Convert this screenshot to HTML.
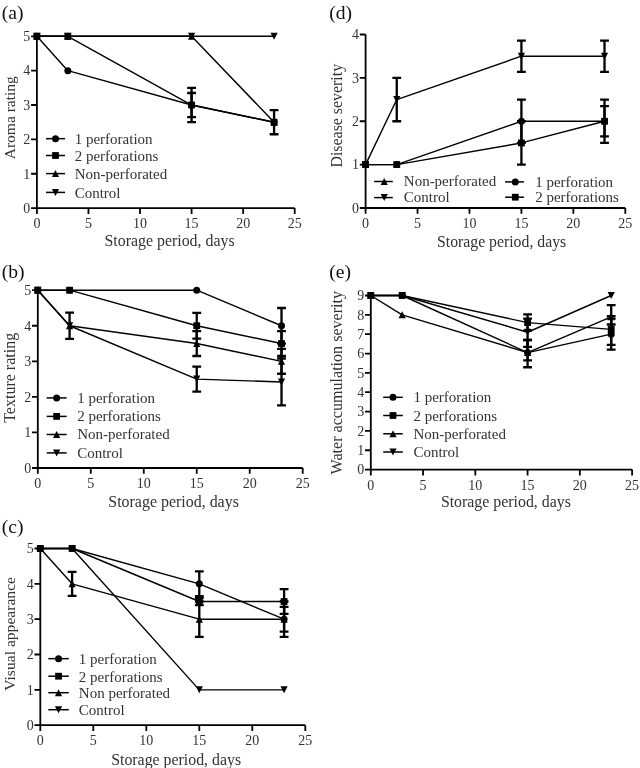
<!DOCTYPE html>
<html><head><meta charset="utf-8"><style>
html,body{margin:0;padding:0;background:#fff;}
svg{display:block;font-family:"Liberation Serif", serif;will-change:transform;}
</style></head><body>
<svg width="640" height="768" viewBox="0 0 640 768">
<rect width="640" height="768" fill="#fff"/>
<path d="M36.9 36.3V208.1H294.7M31.1 208.1H36.9M31.1 173.74H36.9M31.1 139.38H36.9M31.1 105.02H36.9M31.1 70.66H36.9M31.1 36.3H36.9M36.9 208.1V213.9M88.46 208.1V213.9M140.02 208.1V213.9M191.58 208.1V213.9M243.14 208.1V213.9M294.7 208.1V213.9" fill="none" stroke="#000" stroke-width="1.8"/>
<g font-size="14.0" fill="#333"><text x="30.3" y="212.9" text-anchor="end">0</text><text x="30.3" y="178.54" text-anchor="end">1</text><text x="30.3" y="144.18" text-anchor="end">2</text><text x="30.3" y="109.82" text-anchor="end">3</text><text x="30.3" y="75.46" text-anchor="end">4</text><text x="30.3" y="41.1" text-anchor="end">5</text><text x="36.9" y="228.1" text-anchor="middle">0</text><text x="88.46" y="228.1" text-anchor="middle">5</text><text x="140.02" y="228.1" text-anchor="middle">10</text><text x="191.58" y="228.1" text-anchor="middle">15</text><text x="243.14" y="228.1" text-anchor="middle">20</text><text x="294.7" y="228.1" text-anchor="middle">25</text></g>
<text x="104.5" y="246.3" font-size="15.89" fill="#333">Storage period, days</text>
<text transform="translate(14.5 117.75) rotate(-90)" x="0" y="0" text-anchor="middle" font-size="15.5" fill="#333">Aroma rating</text>
<text x="1.7" y="19.3" font-size="19.6" fill="#111">(a)</text>
<path d="M36.9 36.3L67.84 36.3L191.58 36.3L274.08 122.2" fill="none" stroke="#000" stroke-width="1.4" stroke-linejoin="round"/>
<path d="M36.9 36.3L67.84 36.3L191.58 36.3L274.08 36.3" fill="none" stroke="#000" stroke-width="1.4" stroke-linejoin="round"/>
<path d="M36.9 36.3L67.84 70.66L191.58 105.02L274.08 122.2" fill="none" stroke="#000" stroke-width="1.4" stroke-linejoin="round"/>
<path d="M36.9 36.3L67.84 36.3L191.58 105.02L274.08 122.2" fill="none" stroke="#000" stroke-width="1.4" stroke-linejoin="round"/>
<path d="M191.58 92.99V117.05M187.18 92.99H195.98M187.18 117.05H195.98" fill="none" stroke="#000" stroke-width="2.3"/>
<path d="M191.58 87.84V122.2M187.18 87.84H195.98M187.18 122.2H195.98M274.08 110.17V134.23M269.68 110.17H278.48M269.68 134.23H278.48" fill="none" stroke="#000" stroke-width="2.3"/>
<g fill="#000"><path d="M36.9 32.8L40.5 39.8L33.3 39.8Z"/><path d="M67.84 32.8L71.44 39.8L64.24 39.8Z"/><path d="M191.58 32.8L195.18 39.8L187.98 39.8Z"/><path d="M274.08 118.7L277.68 125.7L270.48 125.7Z"/></g>
<g fill="#000"><path d="M33.3 32.8L40.5 32.8L36.9 39.8Z"/><path d="M64.24 32.8L71.44 32.8L67.84 39.8Z"/><path d="M187.98 32.8L195.18 32.8L191.58 39.8Z"/><path d="M270.48 32.8L277.68 32.8L274.08 39.8Z"/></g>
<g fill="#000"><circle cx="36.9" cy="36.3" r="3.5"/><circle cx="67.84" cy="70.66" r="3.5"/><circle cx="191.58" cy="105.02" r="3.5"/><circle cx="274.08" cy="122.2" r="3.5"/></g>
<g fill="#000"><rect x="33.5" y="32.9" width="6.8" height="6.8"/><rect x="64.44" y="32.9" width="6.8" height="6.8"/><rect x="188.18" y="101.62" width="6.8" height="6.8"/><rect x="270.68" y="118.8" width="6.8" height="6.8"/></g>
<path d="M46 138.66H65" stroke="#000" stroke-width="1.5"/>
<g fill="#000"><circle cx="55.5" cy="138.66" r="3.5"/></g>
<text x="74.7" y="143.96" font-size="15" fill="#333">1 perforation</text>
<path d="M46 155.5H65" stroke="#000" stroke-width="1.5"/>
<g fill="#000"><rect x="52.1" y="152.1" width="6.8" height="6.8"/></g>
<text x="74.7" y="160.8" font-size="15" fill="#333">2 perforations</text>
<path d="M46 173.6H65" stroke="#000" stroke-width="1.5"/>
<g fill="#000"><path d="M55.5 170.1L59.1 177.1L51.9 177.1Z"/></g>
<text x="74.7" y="178.9" font-size="15" fill="#333">Non-perforated</text>
<path d="M46 192.4H65" stroke="#000" stroke-width="1.5"/>
<g fill="#000"><path d="M51.9 188.9L59.1 188.9L55.5 195.9Z"/></g>
<text x="74.7" y="197.7" font-size="15" fill="#333">Control</text>
<path d="M37.8 290.2V468H302.7M32 468H37.8M32 432.44H37.8M32 396.88H37.8M32 361.32H37.8M32 325.76H37.8M32 290.2H37.8M37.8 468V473.8M90.78 468V473.8M143.76 468V473.8M196.74 468V473.8M249.72 468V473.8M302.7 468V473.8" fill="none" stroke="#000" stroke-width="1.8"/>
<g font-size="14.0" fill="#333"><text x="31.2" y="472.8" text-anchor="end">0</text><text x="31.2" y="437.24" text-anchor="end">1</text><text x="31.2" y="401.68" text-anchor="end">2</text><text x="31.2" y="366.12" text-anchor="end">3</text><text x="31.2" y="330.56" text-anchor="end">4</text><text x="31.2" y="295" text-anchor="end">5</text><text x="37.8" y="488" text-anchor="middle">0</text><text x="90.78" y="488" text-anchor="middle">5</text><text x="143.76" y="488" text-anchor="middle">10</text><text x="196.74" y="488" text-anchor="middle">15</text><text x="249.72" y="488" text-anchor="middle">20</text><text x="302.7" y="488" text-anchor="middle">25</text></g>
<text x="108.3" y="507.2" font-size="15.94" fill="#333">Storage period, days</text>
<text transform="translate(14.7 377.8) rotate(-90)" x="0" y="0" text-anchor="middle" font-size="16.05" fill="#333">Texture rating</text>
<text x="1.7" y="278.2" font-size="19.6" fill="#111">(b)</text>
<path d="M37.8 290.2L69.59 290.2L196.74 290.2L281.51 325.76" fill="none" stroke="#000" stroke-width="1.4" stroke-linejoin="round"/>
<path d="M37.8 290.2L69.59 290.2L196.74 325.76L281.51 343.54" fill="none" stroke="#000" stroke-width="1.4" stroke-linejoin="round"/>
<path d="M37.8 290.2L69.59 325.76L196.74 343.54L281.51 361.32" fill="none" stroke="#000" stroke-width="1.4" stroke-linejoin="round"/>
<path d="M37.8 290.2L69.59 325.76L196.74 379.1L281.51 381.94" fill="none" stroke="#000" stroke-width="1.4" stroke-linejoin="round"/>
<path d="M281.51 307.98V343.54M277.11 307.98H285.91M277.11 343.54H285.91" fill="none" stroke="#000" stroke-width="2.3"/>
<path d="M196.74 312.96V338.56M192.34 312.96H201.14M192.34 338.56H201.14M281.51 331.09V355.99M277.11 331.09H285.91M277.11 355.99H285.91" fill="none" stroke="#000" stroke-width="2.3"/>
<path d="M69.59 312.6V338.92M65.19 312.6H73.99M65.19 338.92H73.99M196.74 331.09V355.99M192.34 331.09H201.14M192.34 355.99H201.14M281.51 348.87V373.77M277.11 348.87H285.91M277.11 373.77H285.91" fill="none" stroke="#000" stroke-width="2.3"/>
<path d="M196.74 366.65V391.55M192.34 366.65H201.14M192.34 391.55H201.14M281.51 358.48V405.41M277.11 358.48H285.91M277.11 405.41H285.91" fill="none" stroke="#000" stroke-width="2.3"/>
<g fill="#000"><circle cx="37.8" cy="290.2" r="3.5"/><circle cx="69.59" cy="290.2" r="3.5"/><circle cx="196.74" cy="290.2" r="3.5"/><circle cx="281.51" cy="325.76" r="3.5"/></g>
<g fill="#000"><rect x="34.4" y="286.8" width="6.8" height="6.8"/><rect x="66.19" y="286.8" width="6.8" height="6.8"/><rect x="193.34" y="322.36" width="6.8" height="6.8"/><rect x="278.11" y="340.14" width="6.8" height="6.8"/></g>
<g fill="#000"><path d="M37.8 286.7L41.4 293.7L34.2 293.7Z"/><path d="M69.59 322.26L73.19 329.26L65.99 329.26Z"/><path d="M196.74 340.04L200.34 347.04L193.14 347.04Z"/><path d="M281.51 357.82L285.11 364.82L277.91 364.82Z"/></g>
<g fill="#000"><path d="M34.2 286.7L41.4 286.7L37.8 293.7Z"/><path d="M65.99 322.26L73.19 322.26L69.59 329.26Z"/><path d="M193.14 375.6L200.34 375.6L196.74 382.6Z"/><path d="M277.91 378.44L285.11 378.44L281.51 385.44Z"/></g>
<path d="M46.7 397.9H66.6" stroke="#000" stroke-width="1.5"/>
<g fill="#000"><circle cx="56.65" cy="397.9" r="3.5"/></g>
<text x="77.2" y="402.5" font-size="15" fill="#333">1 perforation</text>
<path d="M46.7 416.4H66.6" stroke="#000" stroke-width="1.5"/>
<g fill="#000"><rect x="53.25" y="413" width="6.8" height="6.8"/></g>
<text x="77.2" y="421" font-size="15" fill="#333">2 perforations</text>
<path d="M46.7 434.5H66.6" stroke="#000" stroke-width="1.5"/>
<g fill="#000"><path d="M56.65 431L60.25 438L53.05 438Z"/></g>
<text x="77.2" y="439.1" font-size="15" fill="#333">Non-perforated</text>
<path d="M46.7 452.9H66.6" stroke="#000" stroke-width="1.5"/>
<g fill="#000"><path d="M53.05 449.4L60.25 449.4L56.65 456.4Z"/></g>
<text x="77.2" y="457.5" font-size="15" fill="#333">Control</text>
<path d="M40.3 548.5V725.2H305.3M34.5 725.2H40.3M34.5 689.86H40.3M34.5 654.52H40.3M34.5 619.18H40.3M34.5 583.84H40.3M34.5 548.5H40.3M40.3 725.2V731M93.3 725.2V731M146.3 725.2V731M199.3 725.2V731M252.3 725.2V731M305.3 725.2V731" fill="none" stroke="#000" stroke-width="1.8"/>
<g font-size="14.0" fill="#333"><text x="33.7" y="730" text-anchor="end">0</text><text x="33.7" y="694.66" text-anchor="end">1</text><text x="33.7" y="659.32" text-anchor="end">2</text><text x="33.7" y="623.98" text-anchor="end">3</text><text x="33.7" y="588.64" text-anchor="end">4</text><text x="33.7" y="553.3" text-anchor="end">5</text><text x="40.3" y="745.2" text-anchor="middle">0</text><text x="93.3" y="745.2" text-anchor="middle">5</text><text x="146.3" y="745.2" text-anchor="middle">10</text><text x="199.3" y="745.2" text-anchor="middle">15</text><text x="252.3" y="745.2" text-anchor="middle">20</text><text x="305.3" y="745.2" text-anchor="middle">25</text></g>
<text x="111.2" y="764.7" font-size="15.86" fill="#333">Storage period, days</text>
<text transform="translate(14.5 633.9) rotate(-90)" x="0" y="0" text-anchor="middle" font-size="15.6" fill="#333">Visual appearance</text>
<text x="1.7" y="532.5" font-size="19.6" fill="#111">(c)</text>
<path d="M40.3 548.5L72.1 548.5L199.3 583.84L284.1 619.18" fill="none" stroke="#000" stroke-width="1.4" stroke-linejoin="round"/>
<path d="M40.3 548.5L72.1 548.5L199.3 601.51L284.1 601.51" fill="none" stroke="#000" stroke-width="1.4" stroke-linejoin="round"/>
<path d="M40.3 548.5L72.1 583.84L199.3 619.18L284.1 619.18" fill="none" stroke="#000" stroke-width="1.4" stroke-linejoin="round"/>
<path d="M40.3 548.5L72.1 548.5L199.3 689.86L284.1 689.86" fill="none" stroke="#000" stroke-width="1.4" stroke-linejoin="round"/>
<path d="M199.3 571.47V596.21M194.9 571.47H203.7M194.9 596.21H203.7M284.1 601.51V636.85M279.7 601.51H288.5M279.7 636.85H288.5" fill="none" stroke="#000" stroke-width="2.3"/>
<path d="M199.3 597.98V605.04M194.9 597.98H203.7M194.9 605.04H203.7M284.1 589.14V613.88M279.7 589.14H288.5M279.7 613.88H288.5" fill="none" stroke="#000" stroke-width="2.3"/>
<path d="M72.1 571.82V595.86M67.7 571.82H76.5M67.7 595.86H76.5M199.3 601.51V636.85M194.9 601.51H203.7M194.9 636.85H203.7M284.1 606.81V631.55M279.7 606.81H288.5M279.7 631.55H288.5" fill="none" stroke="#000" stroke-width="2.3"/>
<g fill="#000"><circle cx="40.3" cy="548.5" r="3.5"/><circle cx="72.1" cy="548.5" r="3.5"/><circle cx="199.3" cy="583.84" r="3.5"/><circle cx="284.1" cy="619.18" r="3.5"/></g>
<g fill="#000"><rect x="36.9" y="545.1" width="6.8" height="6.8"/><rect x="68.7" y="545.1" width="6.8" height="6.8"/><rect x="195.9" y="598.11" width="6.8" height="6.8"/><rect x="280.7" y="598.11" width="6.8" height="6.8"/></g>
<g fill="#000"><path d="M40.3 545L43.9 552L36.7 552Z"/><path d="M72.1 580.34L75.7 587.34L68.5 587.34Z"/><path d="M199.3 615.68L202.9 622.68L195.7 622.68Z"/><path d="M284.1 615.68L287.7 622.68L280.5 622.68Z"/></g>
<g fill="#000"><path d="M36.7 545L43.9 545L40.3 552Z"/><path d="M68.5 545L75.7 545L72.1 552Z"/><path d="M195.7 686.36L202.9 686.36L199.3 693.36Z"/><path d="M280.5 686.36L287.7 686.36L284.1 693.36Z"/></g>
<path d="M48.3 658.66H68.8" stroke="#000" stroke-width="1.5"/>
<g fill="#000"><circle cx="58.55" cy="658.66" r="3.5"/></g>
<text x="78.85" y="663.96" font-size="15" fill="#333">1 perforation</text>
<path d="M48.3 676.2H68.8" stroke="#000" stroke-width="1.5"/>
<g fill="#000"><rect x="55.15" y="672.8" width="6.8" height="6.8"/></g>
<text x="78.85" y="681.5" font-size="15" fill="#333">2 perforations</text>
<path d="M48.3 692.7H68.8" stroke="#000" stroke-width="1.5"/>
<g fill="#000"><path d="M58.55 689.2L62.15 696.2L54.95 696.2Z"/></g>
<text x="78.85" y="698" font-size="15" fill="#333">Non perforated</text>
<path d="M48.3 709.7H68.8" stroke="#000" stroke-width="1.5"/>
<g fill="#000"><path d="M54.95 706.2L62.15 706.2L58.55 713.2Z"/></g>
<text x="78.85" y="715" font-size="15" fill="#333">Control</text>
<path d="M365.6 34.5V208H625.3M359.8 208H365.6M359.8 164.62H365.6M359.8 121.25H365.6M359.8 77.88H365.6M359.8 34.5H365.6M365.6 208V213.8M417.54 208V213.8M469.48 208V213.8M521.42 208V213.8M573.36 208V213.8M625.3 208V213.8" fill="none" stroke="#000" stroke-width="1.8"/>
<g font-size="14.0" fill="#333"><text x="359" y="212.8" text-anchor="end">0</text><text x="359" y="169.43" text-anchor="end">1</text><text x="359" y="126.05" text-anchor="end">2</text><text x="359" y="82.67" text-anchor="end">3</text><text x="359" y="39.3" text-anchor="end">4</text><text x="365.6" y="228" text-anchor="middle">0</text><text x="417.54" y="228" text-anchor="middle">5</text><text x="469.48" y="228" text-anchor="middle">10</text><text x="521.42" y="228" text-anchor="middle">15</text><text x="573.36" y="228" text-anchor="middle">20</text><text x="625.3" y="228" text-anchor="middle">25</text></g>
<text x="437" y="246.5" font-size="15.77" fill="#333">Storage period, days</text>
<text transform="translate(342.35 115.7) rotate(-90)" x="0" y="0" text-anchor="middle" font-size="15.9" fill="#333">Disease severity</text>
<text x="329.2" y="19.3" font-size="19.6" fill="#111">(d)</text>
<path d="M365.6 164.62L396.76 99.56L521.42 56.19L604.52 56.19" fill="none" stroke="#000" stroke-width="1.4" stroke-linejoin="round"/>
<path d="M365.6 164.62L396.76 164.62L521.42 121.25L604.52 121.25" fill="none" stroke="#000" stroke-width="1.4" stroke-linejoin="round"/>
<path d="M365.6 164.62L396.76 164.62L521.42 142.94L604.52 121.25" fill="none" stroke="#000" stroke-width="1.4" stroke-linejoin="round"/>
<path d="M396.76 77.88V121.25M392.36 77.88H401.16M392.36 121.25H401.16M521.42 40.57V71.8M517.02 40.57H525.82M517.02 71.8H525.82M604.52 40.57V71.8M600.12 40.57H608.92M600.12 71.8H608.92" fill="none" stroke="#000" stroke-width="2.3"/>
<path d="M521.42 99.56V142.94M517.02 99.56H525.82M517.02 142.94H525.82M604.52 106.07V136.43M600.12 106.07H608.92M600.12 136.43H608.92" fill="none" stroke="#000" stroke-width="2.3"/>
<path d="M521.42 121.25V164.62M517.02 121.25H525.82M517.02 164.62H525.82M604.52 99.56V142.94M600.12 99.56H608.92M600.12 142.94H608.92" fill="none" stroke="#000" stroke-width="2.3"/>
<g fill="#000"><path d="M362 161.12L369.2 161.12L365.6 168.12Z"/><path d="M393.16 96.06L400.36 96.06L396.76 103.06Z"/><path d="M517.82 52.69L525.02 52.69L521.42 59.69Z"/><path d="M600.92 52.69L608.12 52.69L604.52 59.69Z"/></g>
<g fill="#000"><circle cx="365.6" cy="164.62" r="3.5"/><circle cx="396.76" cy="164.62" r="3.5"/><circle cx="521.42" cy="121.25" r="3.5"/><circle cx="604.52" cy="121.25" r="3.5"/></g>
<g fill="#000"><rect x="362.2" y="161.22" width="6.8" height="6.8"/><rect x="393.36" y="161.22" width="6.8" height="6.8"/><rect x="518.02" y="139.54" width="6.8" height="6.8"/><rect x="601.12" y="117.85" width="6.8" height="6.8"/></g>
<path d="M374.1 181.5H392.8" stroke="#000" stroke-width="1.5"/>
<g fill="#000"><path d="M384.2 178L387.8 185L380.6 185Z"/></g>
<text x="403.8" y="186.1" font-size="15" fill="#333">Non-perforated</text>
<path d="M374.1 197.6H392.8" stroke="#000" stroke-width="1.5"/>
<g fill="#000"><path d="M380.6 194.1L387.8 194.1L384.2 201.1Z"/></g>
<text x="403.8" y="202.2" font-size="15" fill="#333">Control</text>
<path d="M505.1 181.9H523.9" stroke="#000" stroke-width="1.5"/>
<g fill="#000"><circle cx="515.3" cy="181.9" r="3.5"/></g>
<text x="535.2" y="186.5" font-size="15" fill="#333">1 perforation</text>
<path d="M505.1 197.2H523.9" stroke="#000" stroke-width="1.5"/>
<g fill="#000"><rect x="511.9" y="193.8" width="6.8" height="6.8"/></g>
<text x="535.2" y="201.8" font-size="15" fill="#333">2 perforations</text>
<path d="M370.8 295.5V469.6H632.1M365 469.6H370.8M365 450.26H370.8M365 430.91H370.8M365 411.57H370.8M365 392.22H370.8M365 372.88H370.8M365 353.53H370.8M365 334.19H370.8M365 314.84H370.8M365 295.5H370.8M370.8 469.6V475.4M423.06 469.6V475.4M475.32 469.6V475.4M527.58 469.6V475.4M579.84 469.6V475.4M632.1 469.6V475.4" fill="none" stroke="#000" stroke-width="1.8"/>
<g font-size="14.0" fill="#333"><text x="364.2" y="474.4" text-anchor="end">0</text><text x="364.2" y="455.06" text-anchor="end">1</text><text x="364.2" y="435.71" text-anchor="end">2</text><text x="364.2" y="416.37" text-anchor="end">3</text><text x="364.2" y="397.02" text-anchor="end">4</text><text x="364.2" y="377.68" text-anchor="end">5</text><text x="364.2" y="358.33" text-anchor="end">6</text><text x="364.2" y="338.99" text-anchor="end">7</text><text x="364.2" y="319.64" text-anchor="end">8</text><text x="364.2" y="300.3" text-anchor="end">9</text><text x="370.8" y="489.6" text-anchor="middle">0</text><text x="423.06" y="489.6" text-anchor="middle">5</text><text x="475.32" y="489.6" text-anchor="middle">10</text><text x="527.58" y="489.6" text-anchor="middle">15</text><text x="579.84" y="489.6" text-anchor="middle">20</text><text x="632.1" y="489.6" text-anchor="middle">25</text></g>
<text x="440.9" y="507.2" font-size="15.86" fill="#333">Storage period, days</text>
<text transform="translate(341.6 382.7) rotate(-90)" x="0" y="0" text-anchor="middle" font-size="16.08" fill="#333">Water accumulation severity</text>
<text x="329.2" y="278.2" font-size="19.6" fill="#111">(e)</text>
<path d="M370.8 295.5L402.16 295.5L527.58 352.57L611.2 334.19" fill="none" stroke="#000" stroke-width="1.4" stroke-linejoin="round"/>
<path d="M370.8 295.5L402.16 295.5L527.58 322.58L611.2 329.35" fill="none" stroke="#000" stroke-width="1.4" stroke-linejoin="round"/>
<path d="M370.8 295.5L402.16 314.84L527.58 352.57L611.2 316.78" fill="none" stroke="#000" stroke-width="1.4" stroke-linejoin="round"/>
<path d="M370.8 295.5L402.16 295.5L527.58 332.25L611.2 295.5" fill="none" stroke="#000" stroke-width="1.4" stroke-linejoin="round"/>
<path d="M527.58 339.99V367.27M523.18 339.99H531.98M523.18 367.27H531.98M611.2 318.71V349.66M606.8 318.71H615.6M606.8 349.66H615.6" fill="none" stroke="#000" stroke-width="2.3"/>
<path d="M527.58 314.46V330.71M523.18 314.46H531.98M523.18 330.71H531.98M611.2 316.2V344.83M606.8 316.2H615.6M606.8 344.83H615.6" fill="none" stroke="#000" stroke-width="2.3"/>
<path d="M527.58 339.99V360.3M523.18 339.99H531.98M523.18 360.3H531.98M611.2 305.17V324.52M606.8 305.17H615.6M606.8 324.52H615.6" fill="none" stroke="#000" stroke-width="2.3"/>
<path d="M527.58 318.71V346.96M523.18 318.71H531.98M523.18 346.96H531.98" fill="none" stroke="#000" stroke-width="2.3"/>
<g fill="#000"><circle cx="370.8" cy="295.5" r="3.5"/><circle cx="402.16" cy="295.5" r="3.5"/><circle cx="527.58" cy="352.57" r="3.5"/><circle cx="611.2" cy="334.19" r="3.5"/></g>
<g fill="#000"><rect x="367.4" y="292.1" width="6.8" height="6.8"/><rect x="398.76" y="292.1" width="6.8" height="6.8"/><rect x="524.18" y="319.18" width="6.8" height="6.8"/><rect x="607.8" y="325.95" width="6.8" height="6.8"/></g>
<g fill="#000"><path d="M370.8 292L374.4 299L367.2 299Z"/><path d="M402.16 311.34L405.76 318.34L398.56 318.34Z"/><path d="M527.58 349.07L531.18 356.07L523.98 356.07Z"/><path d="M611.2 313.28L614.8 320.28L607.6 320.28Z"/></g>
<g fill="#000"><path d="M367.2 292L374.4 292L370.8 299Z"/><path d="M398.56 292L405.76 292L402.16 299Z"/><path d="M523.98 328.75L531.18 328.75L527.58 335.75Z"/><path d="M607.6 292L614.8 292L611.2 299Z"/></g>
<path d="M383.2 397.3H402.8" stroke="#000" stroke-width="1.5"/>
<g fill="#000"><circle cx="393" cy="397.3" r="3.5"/></g>
<text x="413.45" y="402.3" font-size="15" fill="#333">1 perforation</text>
<path d="M383.2 415.5H402.8" stroke="#000" stroke-width="1.5"/>
<g fill="#000"><rect x="389.6" y="412.1" width="6.8" height="6.8"/></g>
<text x="413.45" y="420.5" font-size="15" fill="#333">2 perforations</text>
<path d="M383.2 433.8H402.8" stroke="#000" stroke-width="1.5"/>
<g fill="#000"><path d="M393 430.3L396.6 437.3L389.4 437.3Z"/></g>
<text x="413.45" y="438.8" font-size="15" fill="#333">Non-perforated</text>
<path d="M383.2 452H402.8" stroke="#000" stroke-width="1.5"/>
<g fill="#000"><path d="M389.4 448.5L396.6 448.5L393 455.5Z"/></g>
<text x="413.45" y="457" font-size="15" fill="#333">Control</text>
</svg>
</body></html>
